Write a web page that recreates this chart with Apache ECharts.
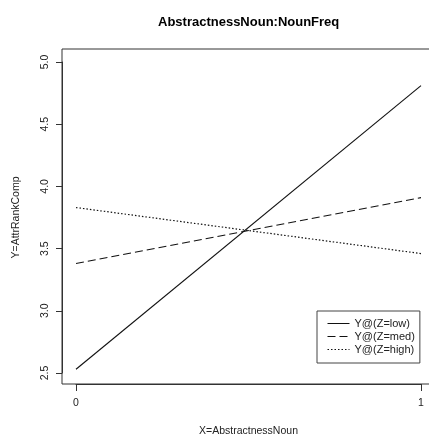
<!DOCTYPE html>
<html>
<head>
<meta charset="utf-8">
<script src="https://cdn.jsdelivr.net/npm/echarts@6/dist/echarts.min.js"></script>
<style>
html,body{margin:0;padding:0;background:#fff;}
#chart{width:429px;height:434px;}
</style>
</head>
<body>
<div id="chart"></div>
<script>
const titleText = 'AbstractnessNoun:NounFreq';
const xName = 'X=AbstractnessNoun';
const yName = 'Y=AttrRankComp';
const xValues = [0, 1];
const yLow = [2.53, 4.81];
const yMed = [3.38, 3.91];
const yHigh = [3.83, 3.46];
const seriesNames = ['Y@(Z=low)', 'Y@(Z=med)', 'Y@(Z=high)'];
const xTickLabels = [0, 1];
const yTickLabels = [2.5, 3.0, 3.5, 4.0, 4.5, 5.0];

const FONT = "'Liberation Sans', Arial, sans-serif";
const INK = '#222';

function pairs(ys) { return xValues.map((x, i) => [x, ys[i]]); }

const chart = echarts.init(document.getElementById('chart'), null, { renderer: 'canvas' });
chart.setOption({
  animation: false,
  backgroundColor: '#fff',
  textStyle: { fontFamily: FONT },
  title: {
    text: titleText,
    left: 158, top: 16, padding: 0,
    textStyle: { fontFamily: FONT, fontSize: 13, fontWeight: 'bold', color: '#000' }
  },
  legend: {
    orient: 'vertical',
    left: 317, top: 311,
    padding: [7, 5, 8, 10],
    itemWidth: 22, itemHeight: 11, itemGap: 2,
    borderColor: '#444', borderWidth: 1, backgroundColor: '#fff',
    itemStyle: { opacity: 0 },
    lineStyle: { width: 1 },
    textStyle: { fontFamily: FONT, fontSize: 11, color: INK, lineHeight: 11 },
    data: seriesNames
  },
  grid: [
    { left: 76, top: 62, width: 345, height: 311, show: false, outerBoundsMode: 'none' },
    { left: 62, top: 49, width: 374, height: 335, show: true, outerBoundsMode: 'none',
      borderColor: '#333', borderWidth: 1, backgroundColor: 'transparent', z: 1 }
  ],
  xAxis: [
    {
      gridIndex: 0, type: 'value', min: xTickLabels[0], max: xTickLabels[xTickLabels.length - 1], interval: 1,
      offset: 11,
      axisLine: { show: true, onZero: false, lineStyle: { color: '#333', width: 1 } },
      axisTick: { show: true, length: 7, lineStyle: { color: '#333' } },
      splitLine: { show: false },
      axisLabel: { fontFamily: FONT, fontSize: 10.5, color: INK, margin: 14 },
      name: xName, nameLocation: 'middle', nameGap: 42,
      nameTextStyle: { fontFamily: FONT, fontSize: 10.5, color: INK }
    },
    { gridIndex: 1, type: 'value', min: 0, max: 1, show: false }
  ],
  yAxis: [
    {
      gridIndex: 0, type: 'value', min: yTickLabels[0], max: yTickLabels[yTickLabels.length - 1], interval: 0.5,
      offset: 14,
      axisLine: { show: true, onZero: false, lineStyle: { color: '#333', width: 1 } },
      axisTick: { show: true, length: 6, lineStyle: { color: '#333' } },
      splitLine: { show: false },
      axisLabel: { fontFamily: FONT, fontSize: 10.5, color: INK, rotate: 90, margin: 11,
        formatter: v => v.toFixed(1) },
      name: yName, nameLocation: 'middle', nameGap: 40,
      nameTextStyle: { fontFamily: FONT, fontSize: 10.5, color: INK }
    },
    { gridIndex: 1, type: 'value', min: 0, max: 1, show: false }
  ],
  series: [
    { name: seriesNames[0], type: 'line', xAxisIndex: 0, yAxisIndex: 0, data: pairs(yLow),
      symbol: 'none', lineStyle: { color: '#111', width: 1.1, type: 'solid' }, itemStyle: { color: '#111' } },
    { name: seriesNames[1], type: 'line', xAxisIndex: 0, yAxisIndex: 0, data: pairs(yMed),
      symbol: 'none', lineStyle: { color: '#111', width: 1.1, type: [8, 4] }, itemStyle: { color: '#111' } },
    { name: seriesNames[2], type: 'line', xAxisIndex: 0, yAxisIndex: 0, data: pairs(yHigh),
      symbol: 'none', lineStyle: { color: '#111', width: 1.2, type: [1.5, 2] }, itemStyle: { color: '#111' } }
  ]
});
</script>
</body>
</html>
